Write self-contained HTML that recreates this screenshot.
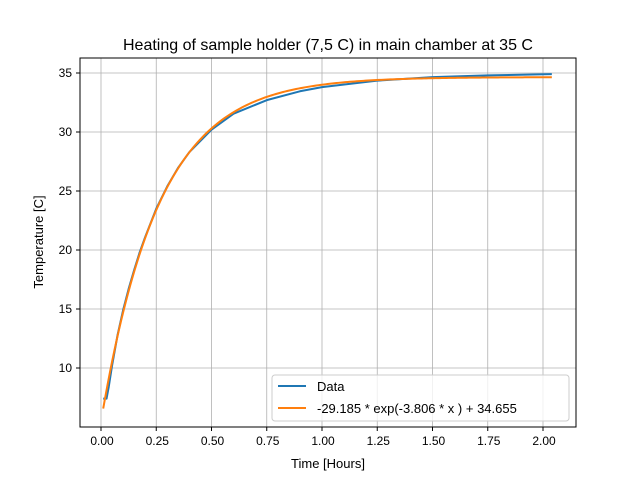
<!DOCTYPE html>
<html><head><meta charset="utf-8"><style>
body{margin:0;background:#fff}
svg{font-family:"Liberation Sans","DejaVu Sans",sans-serif}
</style></head><body>
<svg id="chart" width="640" height="480">
<rect width="640" height="480" fill="#fff"/>
<text x="328" y="50" text-anchor="middle" font-size="16">Heating of sample holder (7,5 C) in main chamber at 35 C</text>
<g id="grid"></g><g id="ticks"></g><g id="series"></g>
<rect x="80" y="58" width="496" height="369" fill="none" stroke="#000" stroke-width="1"/>
<text x="328" y="468" text-anchor="middle" font-size="13">Time [Hours]</text>
<text transform="translate(43,242) rotate(-90)" text-anchor="middle" font-size="13">Temperature [C]</text>
<g>
<rect x="272" y="375" width="297" height="46" rx="3" fill="#fff" fill-opacity="0.8" stroke="#ccc"/>
<line x1="278" y1="386" x2="306" y2="386" stroke="#1f77b4" stroke-width="2"/>
<text x="317" y="391" font-size="13">Data</text>
<line x1="278" y1="408" x2="306" y2="408" stroke="#ff7f0e" stroke-width="2"/>
<text x="317" y="413" font-size="13">-29.185 * exp(-3.806 * x ) + 34.655</text>
</g>
</svg>
<script>
const xTicks=[0,0.25,0.5,0.75,1.0,1.25,1.5,1.75,2.0];
const xTickLabels=["0.00","0.25","0.50","0.75","1.00","1.25","1.50","1.75","2.00"];
const yTicks=[10,15,20,25,30,35];
const dataX=[0.01,0.025,0.035,0.05,0.075,0.1,0.125,0.15,0.175,0.2,0.25,0.3,0.35,0.4,0.5,0.6,0.75,0.9,1.0,1.25,1.5,1.75,2.04];
const dataY=[7.4,7.4,8.4,10.2,12.8,14.9,16.7,18.3,19.8,21.1,23.5,25.4,27.0,28.3,30.2,31.55,32.7,33.45,33.8,34.35,34.65,34.8,34.9];
const fitA=-29.185, fitK=-3.806, fitC=34.655;
const sx=v=>101+v*221, sy=v=>73+(35-v)*11.8;
const NS="http://www.w3.org/2000/svg";
const g=document.getElementById('grid'),t=document.getElementById('ticks'),s=document.getElementById('series');
function mk(tag,at,p){const e=document.createElementNS(NS,tag);for(const k in at)e.setAttribute(k,at[k]);p.appendChild(e);return e;}
xTicks.forEach((v,i)=>{
 const l=mk('line',{x1:sx(v),x2:sx(v),y1:58,y2:427,stroke:'#b0b0b0','stroke-width':0.8},g);
 
 
 mk('line',{x1:sx(v),x2:sx(v),y1:427,y2:431,stroke:'#000'},t);
 const tx=mk('text',{x:sx(v)+1,y:445,'text-anchor':'middle','font-size':12},t);
 tx.textContent=xTickLabels[i];
 
 
});
yTicks.forEach(v=>{
 const l=mk('line',{x1:80,x2:576,y1:sy(v),y2:sy(v),stroke:'#b0b0b0','stroke-width':0.8},g);
 
 
 mk('line',{x1:76,x2:80,y1:sy(v),y2:sy(v),stroke:'#000'},t);
 const tx=mk('text',{x:72,y:sy(v)+4,'text-anchor':'end','font-size':12},t);
 tx.textContent=v;
 
 
});
const dp=mk('polyline',{points:dataX.map((x,i)=>sx(x)+','+sy(dataY[i])).join(' '),fill:'none',stroke:'#1f77b4','stroke-width':2,'stroke-linejoin':'round'},s);


const fp=[];for(let i=0;i<=200;i++){const x=0.01+i*(2.04-0.01)/200;fp.push(sx(x)+','+sy(fitA*Math.exp(fitK*x)+fitC));}
const fl=mk('polyline',{points:fp.join(' '),fill:'none',stroke:'#ff7f0e','stroke-width':2},s);


</script>
</body></html>
